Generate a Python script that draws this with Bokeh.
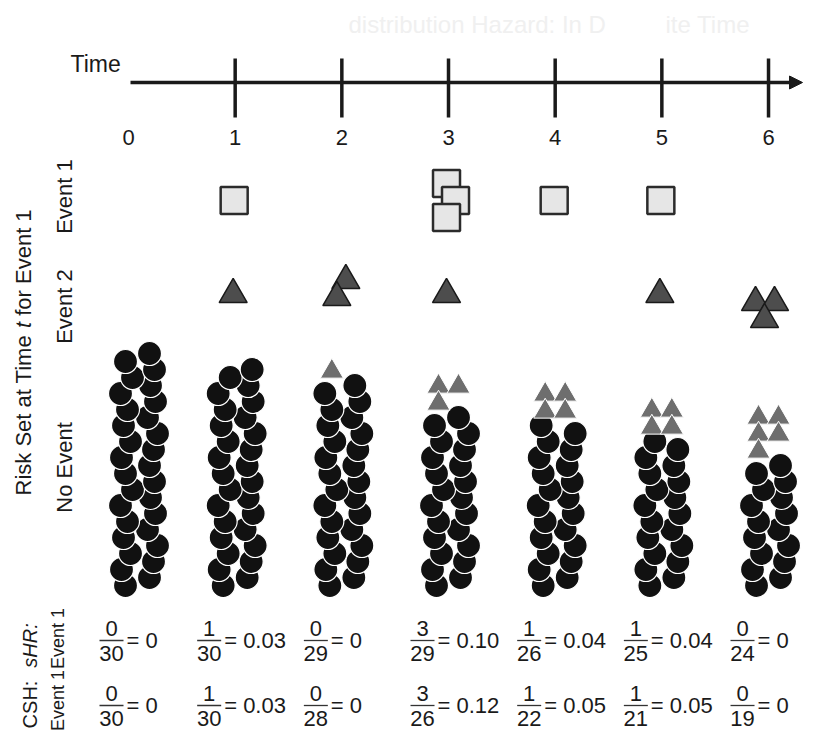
import math
from bokeh.plotting import figure
from bokeh.models import Range1d, Arrow, NormalHead
from bokeh.core.properties import value
from bokeh.embed import file_html
from bokeh.resources import INLINE

# ---------------- data ----------------
times = [0, 1, 2, 3, 4, 5, 6]
time_labels = ["0", "1", "2", "3", "4", "5", "6"]
event1_counts = [0, 1, 0, 3, 1, 1, 0]          # squares
event2_counts = [0, 1, 2, 1, 0, 1, 3]          # dark triangles
prior_event2_counts = [0, 0, 1, 3, 4, 4, 5]    # grey triangles kept in risk set
no_event_counts = [30, 28, 26, 22, 21, 19, 16] # black circles
shr_num = [0, 1, 0, 3, 1, 1, 0]
shr_den = [30, 30, 29, 29, 26, 25, 24]
shr_val = ["0", "0.03", "0", "0.10", "0.04", "0.04", "0"]
csh_num = [0, 1, 0, 3, 1, 1, 0]
csh_den = [30, 30, 28, 26, 22, 21, 19]
csh_val = ["0", "0.03", "0", "0.12", "0.05", "0.05", "0"]

# ---------------- layout ----------------
W, H = 803, 733
X0 = 128.0      # px of time 0
DX = 106.67     # px per time unit
FONT = value("Liberation Sans")
INK = "#1a1a1a"


def px(d):
    return d / DX


def nudge(k):
    return 9.0 if k == 0 else 0.0


p = figure(width=W, height=H, output_backend="svg", toolbar_location=None,
           x_range=Range1d((0 - X0) / DX, (W - X0) / DX),
           y_range=Range1d(H, 0),
           x_axis_location=None, y_axis_location=None,
           min_border=0, min_border_left=0, min_border_right=0,
           min_border_top=0, min_border_bottom=0)
p.grid.visible = False
p.outline_line_color = None
p.background_fill_color = "white"
p.border_fill_color = "white"

# faint title remnants
p.text(x=[px(348 - X0), px(665 - X0)], y=[24, 24],
       text=["distribution Hazard: In D", "ite Time"],
       text_font=FONT, text_font_size="24px", text_color="#f0f0f0",
       text_align="left", text_baseline="middle")

# time axis
p.add_layout(Arrow(end=NormalHead(size=13, fill_color=INK, line_color=INK, line_width=1),
                   x_start=times[0] + px(2), y_start=82,
                   x_end=times[-1] + px(34), y_end=82,
                   line_width=3.5, line_color=INK))
p.segment(x0=times[1:], x1=times[1:], y0=[58] * 6, y1=[117] * 6,
          line_width=3.5, line_color=INK)
p.text(x=times, y=[137] * len(times), text=time_labels, text_font=FONT,
       text_font_size="22px", text_color=INK, text_align="center",
       text_baseline="middle")
p.text(x=[px(70 - X0)], y=[63], text=["Time"], text_font=FONT,
       text_font_size="23px", text_color=INK, text_align="left",
       text_baseline="middle")

# rotated labels
rot = math.pi / 2
p.text(x=[px(23 - X0)] * 2, y=[495, 495 - 167.5 - 12.2],
       text=["Risk Set at Time", "for Event 1"],
       text_font=FONT, text_font_size="22px", text_color=INK,
       text_align="left", text_baseline="middle", angle=rot)
p.text(x=[px(23 - X0)], y=[495 - 167.5], text=["t"],
       text_font=FONT, text_font_size="22px", text_font_style="italic",
       text_color=INK, text_align="left", text_baseline="middle", angle=rot)
p.text(x=[px(64 - X0)] * 3, y=[196, 306, 467],
       text=["Event 1", "Event 2", "No Event"], text_font=FONT,
       text_font_size="22px", text_color=INK, text_align="center",
       text_baseline="middle", angle=rot)
p.text(x=[px(29 - X0)], y=[645], text=["sHR:"], text_font=FONT,
       text_font_size="20px", text_font_style="italic", text_color=INK,
       text_align="center", text_baseline="middle", angle=rot)
p.text(x=[px(29 - X0)], y=[704], text=["CSH:"], text_font=FONT,
       text_font_size="20px", text_color=INK,
       text_align="center", text_baseline="middle", angle=rot)
p.text(x=[px(57 - X0)] * 2, y=[638, 700], text=["Event 1", "Event 1"],
       text_font=FONT, text_font_size="18px", text_color=INK,
       text_align="center", text_baseline="middle", angle=rot)

# ---------------- marks ----------------
CIRC_DX = [-13, 11, -17, 15, -8, 19, -15, 9, -11, 17, -18, 12, -6, 16]
cx, cy = [], []
tops = []
for k, t in enumerate(times):
    n = no_event_counts[k]
    for i in range(n):
        cx.append(t + px(1 + nudge(k) + CIRC_DX[i % len(CIRC_DX)]))
        cy.append(585 - 8 * i)
    tops.append(585 - 8 * (n - 1))
p.scatter(x=cx, y=cy, marker="circle", size=24, fill_color="#111111",
          line_color="white", line_width=1.2)

# grey triangles above the no-event cluster
gx, gy = [], []
for k, t in enumerate(times):
    n = prior_event2_counts[k]
    rows = (n + 1) // 2
    for j in range(n):
        r, c = j // 2, j % 2
        gx.append(t + px(-10 + 20 * c))
        gy.append(tops[k] - 14 - 17 * (rows - 1 - r))
p.scatter(x=gx, y=gy, marker="triangle", size=23, fill_color="#6e6e6e",
          line_color="white", line_width=1)

# event 1 squares
SQ_PAT = {1: [(0, 0)], 3: [(-1, -17), (8, 0), (-1, 17)]}
sx, sy = [], []
for k, t in enumerate(times):
    n = event1_counts[k]
    if n:
        for (ox, oy) in SQ_PAT[n]:
            sx.append(t + px(-1 + ox))
            sy.append(200 + oy)
p.scatter(x=sx, y=sy, marker="square", size=27, fill_color="#e6e6e6",
          line_color="#2b2b2b", line_width=2.5)

# event 2 triangles
TR_PAT = {1: [(0, 0)], 2: [(6, -14), (-3, 3)], 3: [(-11, 8), (8, 8), (-2, 25)]}
tx, ty = [], []
for k, t in enumerate(times):
    n = event2_counts[k]
    if n:
        for (ox, oy) in TR_PAT[n]:
            tx.append(t + px(-2 + ox))
            ty.append(294 + oy)
p.scatter(x=tx, y=ty, marker="triangle", size=28, fill_color="#4d4d4d",
          line_color="#1a1a1a", line_width=1.5)

# ---------------- fractions ----------------
def fraction_row(nums, dens, vals, ybar):
    bx0, bx1, ctr, eqx = [], [], [], []
    for k, t in enumerate(times):
        left = -38 + nudge(k)
        bx0.append(t + px(left))
        bx1.append(t + px(left + 24))
        ctr.append(t + px(left + 12))
        eqx.append(t + px(left + 27))
    p.segment(x0=bx0, x1=bx1, y0=[ybar] * 7, y1=[ybar] * 7,
              line_width=1.3, line_color="#333333")
    p.text(x=ctr, y=[ybar - 12] * 7, text=[str(v) for v in nums], text_font=FONT,
           text_font_size="22px", text_color=INK, text_align="center",
           text_baseline="middle")
    p.text(x=ctr, y=[ybar + 13] * 7, text=[str(v) for v in dens], text_font=FONT,
           text_font_size="22px", text_color=INK, text_align="center",
           text_baseline="middle")
    p.text(x=eqx, y=[ybar] * 7, text=["= " + v for v in vals], text_font=FONT,
           text_font_size="22px", text_color=INK, text_align="left",
           text_baseline="middle")


fraction_row(shr_num, shr_den, shr_val, 640)
fraction_row(csh_num, csh_den, csh_val, 705)

open("out.html", "w").write(file_html(p, INLINE))
